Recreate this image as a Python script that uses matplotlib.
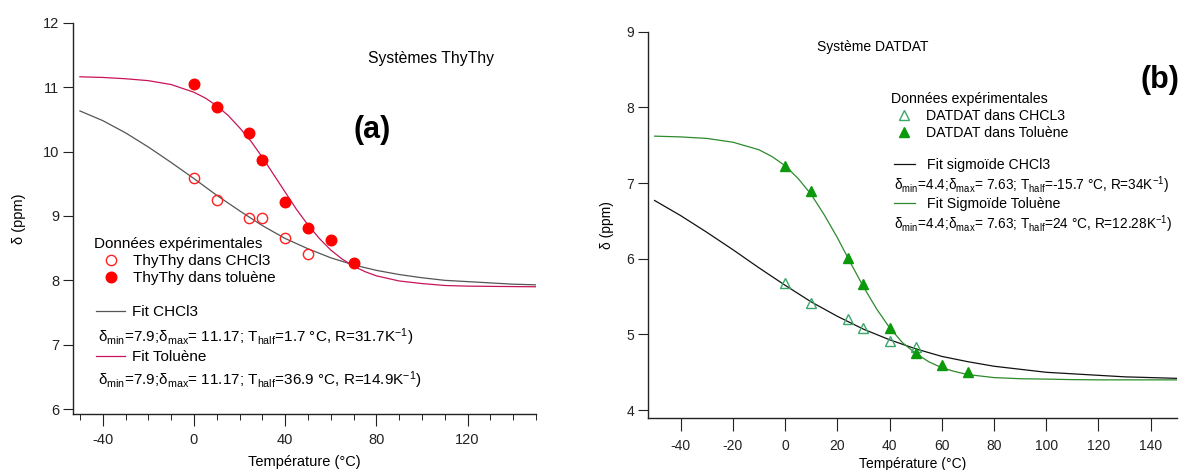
import matplotlib
matplotlib.use("Agg")
import matplotlib.pyplot as plt
from matplotlib.ticker import MultipleLocator

plt.rcParams["font.family"] = ["Liberation Sans", "DejaVu Sans"]
plt.rcParams["axes.unicode_minus"] = False
plt.rcParams["mathtext.fontset"] = "custom"
plt.rcParams["mathtext.rm"] = "Liberation Sans"
plt.rcParams["mathtext.it"] = "Liberation Sans:italic"

# --------------------------------------------------
# (a) ThyThy data
# --------------------------------------------------
thy_chcl3_T = [0, 10, 24, 30, 40, 50]
thy_chcl3_d = [9.59, 9.25, 8.97, 8.97, 8.65, 8.41]
thy_tol_T = [0, 10, 24, 30, 40, 50, 60, 70]
thy_tol_d = [11.05, 10.69, 10.29, 9.87, 9.21, 8.81, 8.63, 8.27]

# fitted curves
fit_thy_chcl3_T = [-50, -40, -30, -20, -10, 0, 10, 20, 30, 40, 50, 60, 70,
                   80, 90, 100, 110, 120, 130, 140, 150]
fit_thy_chcl3_d = [10.63, 10.48, 10.29, 10.07, 9.83, 9.58, 9.32, 9.08, 8.85,
                   8.65, 8.49, 8.35, 8.24, 8.155, 8.09, 8.04, 8.00, 7.98,
                   7.96, 7.94, 7.93]
fit_thy_tol_T = [-50, -40, -30, -20, -10, 0, 5, 10, 15, 20, 25, 30, 35, 40,
                 45, 50, 55, 60, 65, 70, 75, 80, 90, 100, 110, 120, 130,
                 140, 150]
fit_thy_tol_d = [11.16, 11.15, 11.13, 11.10, 11.04, 10.92, 10.83, 10.71,
                 10.56, 10.37, 10.16, 9.91, 9.64, 9.37, 9.10, 8.86, 8.65,
                 8.47, 8.33, 8.22, 8.135, 8.07, 7.99, 7.95, 7.92, 7.91,
                 7.906, 7.903, 7.90]

# --------------------------------------------------
# (b) DATDAT data
# --------------------------------------------------
dat_chcl3_T = [0, 10, 24, 30, 40, 50]
dat_chcl3_d = [5.68, 5.41, 5.21, 5.08, 4.91, 4.83]
dat_tol_T = [0, 10, 24, 30, 40, 50, 60, 70]
dat_tol_d = [7.23, 6.90, 6.01, 5.67, 5.09, 4.75, 4.59, 4.51]

fit_dat_chcl3_T = [-50, -40, -30, -20, -10, 0, 10, 20, 30, 40, 50, 60, 70,
                   80, 90, 100, 110, 120, 130, 140, 150]
fit_dat_chcl3_d = [6.77, 6.57, 6.35, 6.12, 5.88, 5.65, 5.43, 5.24, 5.07,
                   4.93, 4.81, 4.71, 4.64, 4.58, 4.54, 4.50, 4.48, 4.46,
                   4.44, 4.43, 4.42]
fit_dat_tol_T = [-50, -40, -30, -20, -10, -5, 0, 5, 10, 15, 20, 25, 30, 35,
                 40, 45, 50, 55, 60, 65, 70, 80, 90, 100, 110, 120, 130,
                 140, 150]
fit_dat_tol_d = [7.62, 7.61, 7.59, 7.54, 7.44, 7.35, 7.23, 7.06, 6.85, 6.58,
                 6.28, 5.95, 5.63, 5.34, 5.09, 4.89, 4.75, 4.64, 4.56, 4.51,
                 4.47, 4.43, 4.415, 4.41, 4.403, 4.40, 4.40, 4.40, 4.40]

W, H = 1181, 470
fig = plt.figure(figsize=(W / 100, H / 100), dpi=100)


def px(x, y):
    return (x / W, 1 - y / H)


def make_axes(x0, x1, y0, y1):
    return fig.add_axes([x0 / W, 1 - y1 / H, (x1 - x0) / W, (y1 - y0) / H])


def style_axes(ax, fs):
    ax.spines["top"].set_visible(False)
    ax.spines["right"].set_visible(False)
    for s in ("left", "bottom"):
        ax.spines[s].set_linewidth(1.0)
        ax.spines[s].set_color("#222222")
    ax.tick_params(direction="out", labelsize=fs, colors="#222222")


def line_key(handle, label, xy, fs, hl, pad):
    fig.legend([handle], [label], fontsize=fs, loc="center left",
               bbox_to_anchor=px(*xy), frameon=False, borderpad=0,
               borderaxespad=0, handlelength=hl, handletextpad=pad)


# ---------------- panel (a) ----------------
ax1 = make_axes(73.3, 536, 22.7, 414.3)
fit_a1, = ax1.plot(fit_thy_chcl3_T, fit_thy_chcl3_d, color="#555555", lw=0.9, zorder=2)
fit_a2, = ax1.plot(fit_thy_tol_T, fit_thy_tol_d, color="#C8145A", lw=0.9, zorder=2)
h_oc, = ax1.plot(thy_chcl3_T, thy_chcl3_d, "o", ms=7.4, mfc="none",
                 mec="#FF2020", mew=1.0, zorder=3)
h_fc, = ax1.plot(thy_tol_T, thy_tol_d, "o", ms=7.6, mfc="#FF0000",
                 mec="#FF0000", zorder=3)
ax1.set_xlim(-52.9, 150)
ax1.set_ylim(5.92, 12)
ax1.xaxis.set_major_locator(MultipleLocator(40))
ax1.xaxis.set_minor_locator(MultipleLocator(10))
ax1.yaxis.set_major_locator(MultipleLocator(1))
style_axes(ax1, 10.5)
ax1.tick_params(axis="x", which="major", length=8.5, pad=5)
ax1.tick_params(axis="x", which="minor", length=4)
ax1.tick_params(axis="y", length=7, pad=3)
ax1.set_xlabel("Température (°C)", fontsize=10.5, labelpad=6)
ax1.set_ylabel("δ (ppm)", fontsize=10.5, labelpad=12)

fig.text(*px(431, 59), "Systèmes ThyThy", fontsize=11.3, ha="center", va="center")
fig.text(*px(372, 130), "(a)", fontsize=22, fontweight="bold", ha="center", va="center")

fs_a = 11
fig.legend([h_oc, h_fc], ["ThyThy dans CHCl3", "ThyThy dans toluène"],
           title="Données expérimentales", title_fontsize=fs_a, fontsize=fs_a,
           alignment="left", loc="upper left", bbox_to_anchor=px(94, 237),
           frameon=False, borderpad=0, borderaxespad=0, handlelength=2.2,
           handletextpad=0.35, labelspacing=0.2)
line_key(fit_a1, "Fit CHCl3", (96, 312), fs_a, 1.9, 0.45)
line_key(fit_a2, "Fit Toluène", (96, 357), fs_a, 1.9, 0.45)
fig.text(*px(98, 337),
         r"δ$_{\mathrm{min}}$=7.9;δ$_{\mathrm{max}}$= 11.17; T$_{\mathrm{half}}$=1.7 °C, R=31.7K$^{\mathrm{-1}}$)",
         fontsize=fs_a, ha="left", va="center")
fig.text(*px(98, 380),
         r"δ$_{\mathrm{min}}$=7.9;δ$_{\mathrm{max}}$= 11.17; T$_{\mathrm{half}}$=36.9 °C, R=14.9K$^{\mathrm{-1}}$)",
         fontsize=fs_a, ha="left", va="center")

# ---------------- panel (b) ----------------
ax2 = make_axes(648.3, 1176.7, 31.7, 417.7)
fit_b1, = ax2.plot(fit_dat_chcl3_T, fit_dat_chcl3_d, color="#111111", lw=0.9, zorder=2)
fit_b2, = ax2.plot(fit_dat_tol_T, fit_dat_tol_d, color="#2D8A2D", lw=0.9, zorder=2)
h_ot, = ax2.plot(dat_chcl3_T, dat_chcl3_d, "^", ms=7, mfc="none",
                 mec="#3AA66A", mew=1.0, zorder=3)
h_ft, = ax2.plot(dat_tol_T, dat_tol_d, "^", ms=7.8, mfc="#0C990C",
                 mec="#0C990C", zorder=3)
ax2.set_xlim(-52.4, 150)
ax2.set_ylim(3.9, 9)
ax2.xaxis.set_major_locator(MultipleLocator(20))
ax2.yaxis.set_major_locator(MultipleLocator(1))
style_axes(ax2, 10)
ax2.tick_params(axis="x", length=9, pad=6)
ax2.tick_params(axis="y", length=7, pad=3)
ax2.set_xlabel("Température (°C)", fontsize=10, labelpad=3)
ax2.set_ylabel("δ (ppm)", fontsize=10, labelpad=9)

fig.text(*px(873, 47), "Système DATDAT", fontsize=10, ha="center", va="center")
fig.text(*px(1160, 80), "(b)", fontsize=22, fontweight="bold", ha="center", va="center")

fs_b = 10.2
fig.legend([h_ot, h_ft], ["DATDAT dans CHCL3", "DATDAT dans Toluène"],
           title="Données expérimentales", title_fontsize=fs_b, fontsize=fs_b,
           alignment="left", loc="upper left", bbox_to_anchor=px(891, 92.5),
           frameon=False, borderpad=0, borderaxespad=0, handlelength=1.83,
           handletextpad=0.63, labelspacing=0.18)
line_key(fit_b1, "Fit sigmoïde CHCl3", (894, 165), fs_b, 1.5, 0.8)
line_key(fit_b2, "Fit Sigmoïde Toluène", (894, 204), fs_b, 1.5, 0.8)
fig.text(*px(894, 185),
         r"δ$_{\mathrm{min}}$=4.4;δ$_{\mathrm{max}}$= 7.63; T$_{\mathrm{half}}$=-15.7 °C, R=34K$^{\mathrm{-1}}$)",
         fontsize=9.8, ha="left", va="center")
fig.text(*px(894, 224),
         r"δ$_{\mathrm{min}}$=4.4;δ$_{\mathrm{max}}$= 7.63; T$_{\mathrm{half}}$=24 °C, R=12.28K$^{\mathrm{-1}}$)",
         fontsize=9.8, ha="left", va="center")

fig.savefig("out.png", dpi=100)
